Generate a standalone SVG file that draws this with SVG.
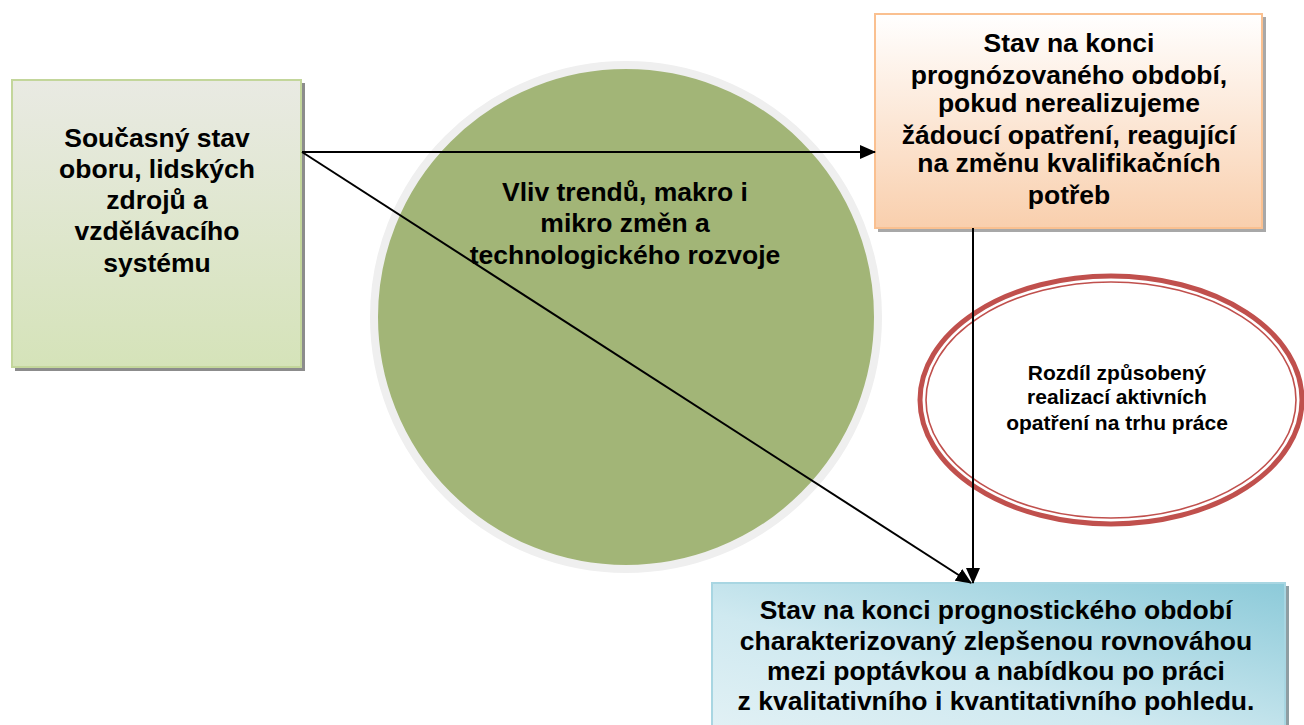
<svg xmlns="http://www.w3.org/2000/svg" width="1304" height="725" viewBox="0 0 1304 725">
<style>
.t{font-family:"Liberation Sans",Arial,sans-serif;font-weight:bold;fill:#000;text-anchor:middle}
.lb{font-size:26.5px}
.cb{font-size:26.5px}
.tr{font-size:26.5px}
.bb{font-size:26.5px}
.small{font-size:21px}
.conn{stroke:#000;stroke-width:2;fill:none}
</style>
<defs>
<linearGradient id="gGreen" x1="0" y1="0" x2="0" y2="1">
<stop offset="0" stop-color="#e9eae3"/>
<stop offset="1" stop-color="#d5e3b9"/>
</linearGradient>
<linearGradient id="gPeach" x1="0" y1="0" x2="0" y2="1">
<stop offset="0" stop-color="#ffffff"/>
<stop offset="1" stop-color="#f9cfad"/>
</linearGradient>
<linearGradient id="gBlue" x1="1" y1="0" x2="0" y2="1">
<stop offset="0" stop-color="#8ccad9"/>
<stop offset="0.6" stop-color="#cfe9f0"/>
<stop offset="1" stop-color="#e2f1f5"/>
</linearGradient>
<marker id="ah" markerWidth="16" markerHeight="14" refX="15" refY="7" orient="auto" markerUnits="userSpaceOnUse">
<path d="M0,0 L16,7 L0,14 Z" fill="#000"/>
</marker>
</defs>

<g id="circle-node">
<circle cx="627.5" cy="318.5" r="253" fill="#a9b897"/>
<circle cx="626" cy="317" r="252" fill="#a2b577" stroke="#efefef" stroke-width="8"/>
<text class="t cb"><tspan x="625" y="201">Vliv trendů, makro i</tspan><tspan x="625" y="232">mikro změn a</tspan><tspan x="625" y="264">technologického rozvoje</tspan></text>
</g>

<g id="left-box">
<rect x="15" y="83" width="290" height="288" fill="#8c8c8c"/>
<rect x="12" y="80" width="289" height="287" fill="url(#gGreen)" stroke="#c3d69b" stroke-width="2"/>
<text class="t lb"><tspan x="157" y="147">Současný stav</tspan><tspan x="157" y="178">oboru, lidských</tspan><tspan x="157" y="209">zdrojů a</tspan><tspan x="157" y="240">vzdělávacího</tspan><tspan x="157" y="272">systému</tspan></text>
</g>

<g id="top-right-box">
<rect x="878" y="17" width="388" height="215" fill="#a8a8a8"/>
<rect x="875" y="14" width="387" height="214" fill="url(#gPeach)" stroke="#fac090" stroke-width="2"/>
<text class="t tr"><tspan x="1069" y="52">Stav na konci</tspan><tspan x="1069" y="84">prognózovaného období,</tspan><tspan x="1069" y="112">pokud nerealizujeme</tspan><tspan x="1069" y="144">žádoucí opatření, reagující</tspan><tspan x="1069" y="172">na změnu kvalifikačních</tspan><tspan x="1069" y="204">potřeb</tspan></text>
</g>

<g id="red-ellipse">
<ellipse cx="1111" cy="400" rx="191" ry="124" fill="#fff" stroke="#c0504d" stroke-width="5"/>
<ellipse cx="1111" cy="400" rx="185" ry="118" fill="none" stroke="#c0504d" stroke-width="1.6"/>
<text class="t small"><tspan x="1117" y="380">Rozdíl způsobený</tspan><tspan x="1117" y="404">realizací aktivních</tspan><tspan x="1117" y="430">opatření na trhu práce</tspan></text>
</g>

<g id="bottom-box">
<rect x="716" y="586" width="573" height="145" fill="#8e9ea3"/>
<rect x="712" y="583" width="573" height="150" fill="url(#gBlue)" stroke="#a8d6e2" stroke-width="2"/>
<text class="t bb"><tspan x="996" y="619">Stav na konci prognostického období</tspan><tspan x="996" y="650">charakterizovaný zlepšenou rovnováhou</tspan><tspan x="996" y="680">mezi poptávkou a nabídkou po práci</tspan><tspan x="996" y="710">z kvalitativního i kvantitativního pohledu.</tspan></text>
</g>

<g id="connectors">
<line class="conn" x1="302" y1="152" x2="875" y2="152" marker-end="url(#ah)"/>
<line class="conn" x1="302" y1="152" x2="971" y2="583" marker-end="url(#ah)"/>
<line class="conn" x1="973" y1="228" x2="973" y2="583" marker-end="url(#ah)"/>
</g>
</svg>
